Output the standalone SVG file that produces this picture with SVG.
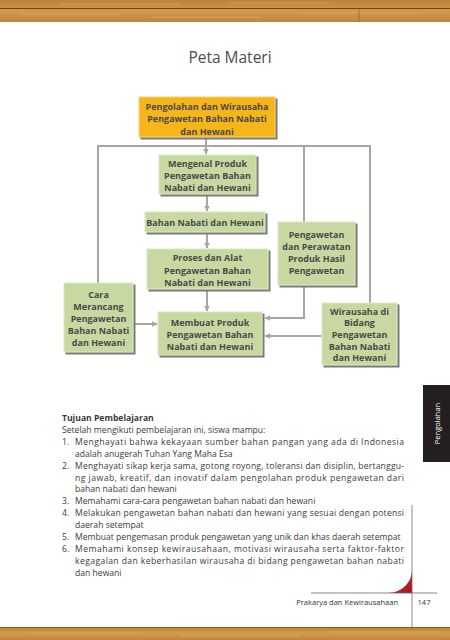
<svg xmlns="http://www.w3.org/2000/svg" width="450" height="640" viewBox="0 0 450 640">
<defs>
<linearGradient id="wood" x1="0" y1="0" x2="0" y2="1">
<stop offset="0" stop-color="#b9823a"/>
<stop offset="0.5" stop-color="#d39a4c"/>
<stop offset="1" stop-color="#c08640"/>
</linearGradient>
<linearGradient id="red" x1="0" y1="0" x2="1" y2="1">
<stop offset="0" stop-color="#d63a45"/>
<stop offset="1" stop-color="#a8121f"/>
</linearGradient>
<marker id="ah" viewBox="0 0 10 10" refX="9" refY="5" markerWidth="3" markerHeight="3" orient="auto" markerUnits="strokeWidth">
<path d="M0,0 L10,5 L0,10 z" fill="#a6a6a6"/>
</marker>
<filter id="sh" x="-10%" y="-10%" width="130%" height="130%">
<feOffset dx="2" dy="2" in="SourceAlpha" result="o"/>
<feFlood flood-color="#7a7a7a"/>
<feComposite in2="o" operator="in" result="s"/>
<feMerge><feMergeNode in="s"/><feMergeNode in="SourceGraphic"/></feMerge>
</filter>
</defs>
<style>
.g{fill:#c7d8a1;stroke:#dbe6c3;stroke-width:1;filter:url(#sh)}
.o{fill:#f7b51c;stroke:#fcd36a;stroke-width:1;filter:url(#sh)}
.t{font-family:"Open Sans","Noto Sans",sans-serif;font-weight:700;font-size:9px;fill:#4a4a4a;text-anchor:middle}
.c{fill:none;stroke:#a6a6a6;stroke-width:2}
.b{font-family:"Open Sans","Noto Sans",sans-serif;font-size:8.6px;fill:#3a3a3a}
.bb{font-weight:700}
</style>
<rect width="450" height="640" fill="#ffffff"/>
<g id="wood-top">
<rect x="0" y="0" width="450" height="22" fill="url(#wood)"/>
<line x1="0" y1="8.5" x2="450" y2="8.5" stroke="#6e4519" stroke-width="1.2"/>
<path d="M20 14 H120 M150 17 H260 M300 13 H420 M60 4 H180 M230 3 H330" stroke="#e2b56e" stroke-width="0.6" opacity="0.7"/>
<line x1="359" y1="9" x2="359" y2="22" stroke="#8c5a22" stroke-width="0.6"/>
</g>
<g id="wood-bottom">
<rect x="0" y="627" width="450" height="13" fill="url(#wood)"/>
<line x1="0" y1="627.5" x2="450" y2="627.5" stroke="#8a5a24" stroke-width="1"/>
<path d="M30 633 H140 M180 636 H300 M330 632 H440" stroke="#e2b56e" stroke-width="0.6" opacity="0.7"/>
</g>
<text x="230" y="63" font-family="'Open Sans','Noto Sans',sans-serif" font-size="15.5" fill="#4d4d4d" text-anchor="middle">Peta Materi</text>
<g id="connectors">
<path class="c" d="M98 283 V146 H370 V303"/>
<path class="c" d="M304 146 V222"/>
<path class="c" d="M206 139 V154" marker-end="url(#ah)"/>
<path class="c" d="M207 196 V211" marker-end="url(#ah)"/>
<path class="c" d="M207 234 V248" marker-end="url(#ah)"/>
<path class="c" d="M207 291 V311" marker-end="url(#ah)"/>
<path class="c" d="M135 324 H157" marker-end="url(#ah)"/>
<path class="c" d="M304 287 V318 H265" marker-end="url(#ah)"/>
<path class="c" d="M322 336 H265" marker-end="url(#ah)"/>
</g>
<g id="n-pengolahan">
<rect class="o" x="139" y="97" width="136" height="40"/>
<text class="t" x="207" y="109.5">Pengolahan dan Wirausaha</text>
<text class="t" x="207" y="122">Pengawetan Bahan Nabati</text>
<text class="t" x="207" y="134.5">dan Hewani</text>
</g>
<g id="n-mengenal">
<rect class="g" x="159" y="155" width="97" height="39"/>
<text class="t" x="207.5" y="166.5">Mengenal Produk</text>
<text class="t" x="207.5" y="178.5">Pengawetan Bahan</text>
<text class="t" x="207.5" y="190.5">Nabati dan Hewani</text>
</g>
<g id="n-bahan">
<rect class="g" x="145" y="212" width="120" height="20"/>
<text class="t" x="205" y="225.5">Bahan Nabati dan Hewani</text>
</g>
<g id="n-proses">
<rect class="g" x="147" y="249" width="121" height="40"/>
<text class="t" x="207.5" y="261">Proses dan Alat</text>
<text class="t" x="207.5" y="273.5">Pengawetan Bahan</text>
<text class="t" x="207.5" y="286">Nabati dan Hewani</text>
</g>
<g id="n-membuat">
<rect class="g" x="158" y="312" width="104" height="43"/>
<text class="t" x="210" y="325.5">Membuat Produk</text>
<text class="t" x="210" y="337.5">Pengawetan Bahan</text>
<text class="t" x="210" y="349.5">Nabati dan Hewani</text>
</g>
<g id="n-cara">
<rect class="g" x="64" y="283" width="69" height="69"/>
<text class="t" x="98.5" y="297.5">Cara</text>
<text class="t" x="98.5" y="309.5">Merancang</text>
<text class="t" x="98.5" y="321.5">Pengawetan</text>
<text class="t" x="98.5" y="333.5">Bahan Nabati</text>
<text class="t" x="98.5" y="345.5">dan Hewani</text>
</g>
<g id="n-perawatan">
<rect class="g" x="278" y="222" width="77" height="63"/>
<text class="t" x="316.5" y="237.5">Pengawetan</text>
<text class="t" x="316.5" y="249.5">dan Perawatan</text>
<text class="t" x="316.5" y="261.5">Produk Hasil</text>
<text class="t" x="316.5" y="273.5">Pengawetan</text>
</g>
<g id="n-wirausaha">
<rect class="g" x="322" y="303" width="75" height="62"/>
<text class="t" x="359.5" y="314.5">Wirausaha di</text>
<text class="t" x="359.5" y="326.2">Bidang</text>
<text class="t" x="359.5" y="337.9">Pengawetan</text>
<text class="t" x="359.5" y="349.6">Bahan Nabati</text>
<text class="t" x="359.5" y="361.3">dan Hewani</text>
</g>
<g id="side-tab">
<rect x="423" y="385" width="27" height="77" fill="#231f20"/>
<text x="0" y="0" transform="translate(439.5 423.5) rotate(-90)" font-family="'Open Sans','Noto Sans',sans-serif" font-size="7.5" fill="#ffffff" text-anchor="middle">Pengolahan</text>
</g>
<g id="body">
<text class="b bb" x="62" y="421">Tujuan Pembelajaran</text>
<text class="b" x="62" y="432.9">Setelah mengikuti pembelajaran ini, siswa mampu:</text>
<text class="b" x="62" y="444.8">1.</text>
<text class="b" x="75" y="444.8" textLength="329" lengthAdjust="spacing">Menghayati bahwa kekayaan sumber bahan pangan yang ada di Indonesia</text>
<text class="b" x="75" y="456.7">adalah anugerah Tuhan Yang Maha Esa</text>
<text class="b" x="62" y="468.6">2.</text>
<text class="b" x="75" y="468.6" textLength="329" lengthAdjust="spacing">Menghayati sikap kerja sama, gotong royong, toleransi dan disiplin, bertanggu-</text>
<text class="b" x="75" y="480.5" textLength="329" lengthAdjust="spacing">ng jawab, kreatif, dan inovatif dalam pengolahan produk pengawetan dari</text>
<text class="b" x="75" y="492.4">bahan nabati dan hewani</text>
<text class="b" x="62" y="504.3">3.</text>
<text class="b" x="75" y="504.3">Memahami cara-cara pengawetan bahan nabati dan hewani</text>
<text class="b" x="62" y="516.2">4.</text>
<text class="b" x="75" y="516.2" textLength="329" lengthAdjust="spacing">Melakukan pengawetan bahan nabati dan hewani yang sesuai dengan potensi</text>
<text class="b" x="75" y="528.1">daerah setempat</text>
<text class="b" x="62" y="540">5.</text>
<text class="b" x="75" y="540">Membuat pengemasan produk pengawetan yang unik dan khas daerah setempat</text>
<text class="b" x="62" y="551.9">6.</text>
<text class="b" x="75" y="551.9" textLength="329" lengthAdjust="spacing">Memahami konsep kewirausahaan, motivasi wirausaha serta faktor-faktor</text>
<text class="b" x="75" y="563.8" textLength="329" lengthAdjust="spacing">kegagalan dan keberhasilan wirausaha di bidang pengawetan bahan nabati</text>
<text class="b" x="75" y="575.7">dan hewani</text>
</g>
<g id="footer">
<path d="M412 570 V593 H388 A24 23 0 0 0 412 570 Z" fill="url(#red)"/>
<line x1="412" y1="505" x2="412" y2="627" stroke="#6a6a6a" stroke-width="0.8"/>
<line x1="311" y1="593" x2="437" y2="593" stroke="#6a6a6a" stroke-width="0.8"/>
<text x="398" y="605" font-family="'Open Sans','Noto Sans',sans-serif" font-size="7.5" fill="#333" text-anchor="end">Prakarya dan Kewirausahaan</text>
<text x="424" y="605" font-family="'Open Sans','Noto Sans',sans-serif" font-size="7.5" fill="#333" text-anchor="middle">147</text>
</g>
</svg>
